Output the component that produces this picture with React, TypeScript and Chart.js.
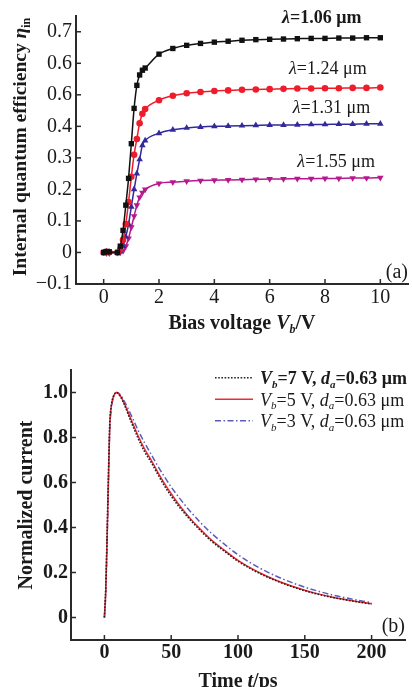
import React, { useEffect, useRef } from 'react';
import { Chart, registerables } from 'chart.js';

Chart.register(...registerables);

const FAMILY = '"Liberation Serif", "Times New Roman", Times, serif';
const AXIS = '#2a2a2a';
const TEXT = '#1a1a1a';

// ---------- Panel (a) data ----------
const biasV = [0, 0.1, 0.2, 0.5, 0.6, 0.7, 0.8, 0.9, 1.0, 1.1, 1.2, 1.3, 1.4, 1.5, 2, 2.5, 3, 3.5, 4, 4.5, 5, 5.5, 6, 6.5, 7, 7.5, 8, 8.5, 9, 9.5, 10];
const eta106 = [0, 0.003, 0.002, 0, 0.02, 0.07, 0.15, 0.235, 0.345, 0.457, 0.53, 0.563, 0.578, 0.585, 0.629, 0.647, 0.657, 0.663, 0.667, 0.67, 0.673, 0.675, 0.676, 0.677, 0.678, 0.679, 0.679, 0.68, 0.68, 0.681, 0.681];
const eta124 = [0, 0.002, 0.001, 0, 0.01, 0.04, 0.09, 0.16, 0.24, 0.31, 0.36, 0.41, 0.44, 0.455, 0.483, 0.497, 0.505, 0.509, 0.512, 0.514, 0.516, 0.517, 0.518, 0.519, 0.52, 0.52, 0.521, 0.521, 0.522, 0.522, 0.523];
const eta131 = [0, 0.002, 0.001, 0, 0.005, 0.02, 0.05, 0.09, 0.145, 0.2, 0.25, 0.295, 0.34, 0.355, 0.378, 0.389, 0.395, 0.398, 0.4, 0.401, 0.402, 0.403, 0.404, 0.404, 0.405, 0.406, 0.406, 0.407, 0.407, 0.408, 0.408];
const eta155 = [0, -0.002, -0.002, -0.001, 0, 0.005, 0.02, 0.045, 0.08, 0.115, 0.15, 0.175, 0.19, 0.2, 0.219, 0.223, 0.226, 0.228, 0.229, 0.23, 0.231, 0.232, 0.233, 0.233, 0.234, 0.234, 0.235, 0.235, 0.236, 0.236, 0.237];
const xTicksA = [0, 2, 4, 6, 8, 10];
const yTicksA = [-0.1, 0, 0.1, 0.2, 0.3, 0.4, 0.5, 0.6, 0.7];
const yTickLabelsA = ['\u22120.1', '0', '0.1', '0.2', '0.3', '0.4', '0.6', '0.6', '0.7'];
const xTickLabelsA = ['0', '2', '4', '6', '8', '10'];
const wavelengthsA = ['1.06', '1.24', '1.31', '1.55'];
// label anchor positions in data units (x, baseline y)
const labelXA = [6.45, 6.7, 6.83, 7.0];
const labelYA = [0.727, 0.566, 0.441, 0.272];

// ---------- Panel (b) data ----------
const timePs = [0, 1, 2, 3, 4, 5, 6, 7, 8, 9, 10, 12, 15, 20, 25, 30, 35, 40, 45, 50, 55, 60, 65, 70, 75, 80, 90, 100, 110, 120, 130, 140, 150, 160, 170, 180, 190, 200];
const cur7V = [0, 0.13, 0.37, 0.63, 0.86, 0.935, 0.968, 0.987, 0.997, 1.0, 0.997, 0.982, 0.945, 0.87, 0.8, 0.738, 0.69, 0.636, 0.585, 0.54, 0.499, 0.463, 0.429, 0.398, 0.368, 0.34, 0.294, 0.25, 0.215, 0.185, 0.16, 0.138, 0.119, 0.103, 0.09, 0.079, 0.069, 0.06];
const cur5V = [0, 0.12, 0.35, 0.61, 0.85, 0.93, 0.965, 0.985, 0.996, 1.0, 0.998, 0.985, 0.95, 0.88, 0.81, 0.75, 0.7, 0.645, 0.595, 0.55, 0.508, 0.47, 0.435, 0.403, 0.373, 0.345, 0.298, 0.254, 0.218, 0.188, 0.162, 0.14, 0.121, 0.105, 0.091, 0.08, 0.07, 0.061];
const cur3V = [0, 0.1, 0.32, 0.58, 0.83, 0.92, 0.96, 0.982, 0.995, 1.0, 0.999, 0.99, 0.96, 0.9, 0.835, 0.777, 0.725, 0.673, 0.625, 0.58, 0.54, 0.502, 0.467, 0.434, 0.403, 0.375, 0.325, 0.279, 0.241, 0.208, 0.18, 0.156, 0.135, 0.117, 0.101, 0.088, 0.076, 0.066];
const biasLegendB = ['7', '5', '3'];
const thicknessB = '0.63';
const xTicksB = [0, 50, 100, 150, 200];
const yTicksB = [0, 0.2, 0.4, 0.6, 0.8, 1.0];
const yTickLabelsB = ['0', '0.2', '0.4', '0.6', '0.8', '1.0'];

// ---------- rich text helpers ----------
type Seg = { t: string; i?: boolean; b?: boolean; sub?: boolean };
function segFont(s: Seg, size: number, bold: boolean) {
  const sz = s.sub ? Math.round(size * 0.62) : size;
  return `${s.i ? 'italic ' : ''}${bold || s.b ? 'bold ' : ''}${sz}px ${FAMILY}`;
}
function richWidth(ctx: CanvasRenderingContext2D, segs: Seg[], size: number, bold: boolean) {
  let w = 0;
  for (const s of segs) {
    ctx.font = segFont(s, size, bold);
    w += ctx.measureText(s.t).width;
  }
  return w;
}
function drawRich(ctx: CanvasRenderingContext2D, segs: Seg[], x: number, y: number, size: number, bold: boolean, color = TEXT) {
  ctx.save();
  ctx.fillStyle = color;
  ctx.textAlign = 'left';
  ctx.textBaseline = 'alphabetic';
  let cx = x;
  for (const s of segs) {
    ctx.font = segFont(s, size, bold);
    ctx.fillText(s.t, cx, y + (s.sub ? size * 0.22 : 0));
    cx += ctx.measureText(s.t).width;
  }
  ctx.restore();
}
function drawRotated(ctx: CanvasRenderingContext2D, segs: Seg[], baseX: number, centerY: number, size: number, bold: boolean) {
  const w = richWidth(ctx, segs, size, bold);
  ctx.save();
  ctx.translate(baseX, centerY);
  ctx.rotate(-Math.PI / 2);
  drawRich(ctx, segs, -w / 2, 0, size, bold);
  ctx.restore();
}
function innerTicks(chart: any, xt: number[], yt: number[]) {
  const ctx = chart.ctx as CanvasRenderingContext2D;
  const ca = chart.chartArea;
  const xs = chart.scales.x;
  const ys = chart.scales.y;
  ctx.save();
  ctx.strokeStyle = AXIS;
  ctx.lineWidth = 1.5;
  for (const v of xt) {
    const px = xs.getPixelForValue(v);
    ctx.beginPath();
    ctx.moveTo(px, ca.bottom);
    ctx.lineTo(px, ca.bottom - 5);
    ctx.stroke();
  }
  for (const v of yt) {
    const py = ys.getPixelForValue(v);
    ctx.beginPath();
    ctx.moveTo(ca.left, py);
    ctx.lineTo(ca.left + 5, py);
    ctx.stroke();
  }
  ctx.restore();
}

const seriesA = [
  { name: '1.06', values: eta106, color: '#111111', style: 'rect', rot: 0, radius: 3.8 },
  { name: '1.24', values: eta124, color: '#ee1d2b', style: 'circle', rot: 0, radius: 3.3 },
  { name: '1.31', values: eta131, color: '#33299a', style: 'triangle', rot: 0, radius: 3.8 },
  { name: '1.55', values: eta155, color: '#b5198c', style: 'triangle', rot: 180, radius: 3.8 },
];

const seriesB = [
  { v: biasLegendB[0], values: cur7V, color: '#222222', dash: [1.6, 1.6], width: 1.6, bold: true },
  { v: biasLegendB[1], values: cur5V, color: '#ef2b36', dash: [] as number[], width: 1.5, bold: false },
  { v: biasLegendB[2], values: cur3V, color: '#5b5cb8', dash: [6, 2.5, 1.5, 2.5], width: 1.5, bold: false },
];

const decorA = {
  id: 'decorA',
  afterDraw(chart: any) {
    const ctx = chart.ctx as CanvasRenderingContext2D;
    const ca = chart.chartArea;
    const xs = chart.scales.x;
    const ys = chart.scales.y;
    innerTicks(chart, xTicksA, yTicksA);
    // curve labels
    wavelengthsA.forEach((w, i) => {
      const segs: Seg[] = [{ t: '\u03bb', i: true }, { t: `=${w} \u03bcm` }];
      drawRich(ctx, segs, xs.getPixelForValue(labelXA[i]), ys.getPixelForValue(labelYA[i]), 18, i === 0);
    });
    // panel tag
    ctx.save();
    ctx.fillStyle = TEXT;
    ctx.font = `20px ${FAMILY}`;
    ctx.textAlign = 'right';
    ctx.textBaseline = 'alphabetic';
    ctx.fillText('(a)', ca.right, ca.bottom - 6);
    ctx.restore();
    // axis titles
    const xt: Seg[] = [{ t: 'Bias voltage ' }, { t: 'V', i: true }, { t: 'b', i: true, sub: true }, { t: '/V' }];
    const w = richWidth(ctx, xt, 20, true);
    drawRich(ctx, xt, (ca.left + ca.right) / 2 - w / 2, 329, 20, true);
    const yt: Seg[] = [{ t: 'Internal quantum efficiency ' }, { t: '\u03b7', i: true }, { t: 'in', sub: true }];
    drawRotated(ctx, yt, 26, 147, 19.5, true);
  },
};

const decorB = {
  id: 'decorB',
  afterDraw(chart: any) {
    const ctx = chart.ctx as CanvasRenderingContext2D;
    const ca = chart.chartArea;
    innerTicks(chart, xTicksB, yTicksB);
    // legend
    seriesB.forEach((s, i) => {
      const ly = 42.7 + i * 21.5;
      ctx.save();
      ctx.strokeStyle = s.color;
      ctx.lineWidth = s.width;
      ctx.setLineDash(s.dash);
      ctx.beginPath();
      ctx.moveTo(215, ly);
      ctx.lineTo(253, ly);
      ctx.stroke();
      ctx.restore();
      const segs: Seg[] = [
        { t: 'V', i: true }, { t: 'b', i: true, sub: true }, { t: `=${s.v} V, ` },
        { t: 'd', i: true }, { t: 'a', i: true, sub: true }, { t: `=${thicknessB} \u03bcm` },
      ];
      drawRich(ctx, segs, 260, ly + 6.3, 18, s.bold);
    });
    ctx.save();
    ctx.fillStyle = TEXT;
    ctx.font = `20px ${FAMILY}`;
    ctx.textAlign = 'right';
    ctx.textBaseline = 'alphabetic';
    ctx.fillText('(b)', ca.right, ca.bottom - 8);
    ctx.restore();
    const xt: Seg[] = [{ t: 'Time ' }, { t: 't', i: true }, { t: '/ps' }];
    const w = richWidth(ctx, xt, 20, true);
    drawRich(ctx, xt, (ca.left + ca.right) / 2 - w / 2, 351.5, 20, true);
    drawRotated(ctx, [{ t: 'Normalized current' }], 31.5, (ca.top + ca.bottom) / 2, 20, true);
  },
};

function axisBase() {
  return {
    type: 'linear' as const,
    grid: { display: true, drawOnChartArea: false, drawTicks: false },
    border: { display: true, color: AXIS, width: 2 },
  };
}

function configA(): any {
  return {
    type: 'line',
    data: {
      datasets: seriesA.map((s) => ({
        label: s.name,
        data: biasV.map((x, i) => ({ x, y: s.values[i] })),
        borderColor: s.color,
        backgroundColor: s.color,
        borderWidth: 1.5,
        pointStyle: s.style,
        pointRotation: s.rot,
        pointRadius: s.radius,
        pointBorderWidth: 0,
        cubicInterpolationMode: 'monotone',
        fill: false,
      })),
    },
    options: {
      responsive: false,
      animation: false,
      devicePixelRatio: 1,
      events: [],
      layout: { padding: { left: 0, top: 16, right: 2, bottom: 0 } },
      plugins: { legend: { display: false }, tooltip: { enabled: false } },
      scales: {
        x: {
          ...axisBase(),
          min: -1,
          max: 11,
          afterBuildTicks: (s: any) => { s.ticks = xTicksA.map((v) => ({ value: v })); },
          afterFit: (s: any) => { s.height = 61; },
          ticks: {
            autoSkip: false, maxRotation: 0, padding: 2, color: TEXT,
            font: { family: FAMILY, size: 20 },
            callback: (_v: any, i: number) => xTickLabelsA[i],
          },
        },
        y: {
          ...axisBase(),
          min: -0.1,
          max: 0.75,
          afterBuildTicks: (s: any) => { s.ticks = yTicksA.map((v) => ({ value: v })); },
          afterFit: (s: any) => { s.width = 76; },
          ticks: {
            autoSkip: false, padding: 4, color: TEXT,
            font: { family: FAMILY, size: 20 },
            callback: (_v: any, i: number) => yTickLabelsA[i],
          },
        },
      },
    },
    plugins: [decorA],
  };
}

function configB(): any {
  return {
    type: 'line',
    data: {
      datasets: seriesB.map((s) => ({
        label: s.v,
        data: timePs.map((x, i) => ({ x, y: s.values[i] })),
        borderColor: s.color,
        borderWidth: s.width,
        borderDash: s.dash,
        pointRadius: 0,
        cubicInterpolationMode: 'monotone',
        fill: false,
      })),
    },
    options: {
      responsive: false,
      animation: false,
      devicePixelRatio: 1,
      events: [],
      layout: { padding: { left: 0, top: 35, right: 7, bottom: 0 } },
      plugins: { legend: { display: false }, tooltip: { enabled: false } },
      scales: {
        x: {
          ...axisBase(),
          min: -25,
          max: 225,
          afterBuildTicks: (s: any) => { s.ticks = xTicksB.map((v) => ({ value: v })); },
          afterFit: (s: any) => { s.height = 47; },
          ticks: {
            autoSkip: false, maxRotation: 0, padding: 1, color: TEXT,
            font: { family: FAMILY, size: 20, weight: 'bold' },
            callback: (v: any) => String(v),
          },
        },
        y: {
          ...axisBase(),
          min: -0.1,
          max: 1.1,
          afterBuildTicks: (s: any) => { s.ticks = yTicksB.map((v) => ({ value: v })); },
          afterFit: (s: any) => { s.width = 71; },
          ticks: {
            autoSkip: false, padding: 3, color: TEXT,
            font: { family: FAMILY, size: 20, weight: 'bold' },
            callback: (_v: any, i: number) => yTickLabelsB[i],
          },
        },
      },
    },
    plugins: [decorB],
  };
}

export default function App() {
  const refA = useRef<HTMLCanvasElement>(null);
  const refB = useRef<HTMLCanvasElement>(null);
  useEffect(() => {
    const a = new Chart(refA.current as HTMLCanvasElement, configA());
    const b = new Chart(refB.current as HTMLCanvasElement, configB());
    return () => {
      a.destroy();
      b.destroy();
    };
  }, []);
  return (
    <div style={{ position: 'fixed', left: 0, top: 0, width: 412, height: 687, background: '#fff', overflow: 'hidden' }}>
      <canvas ref={refA} width={412} height={345} style={{ position: 'absolute', left: 0, top: 0, width: 412, height: 345 }} />
      <canvas ref={refB} width={412} height={352} style={{ position: 'absolute', left: 0, top: 335, width: 412, height: 352 }} />
    </div>
  );
}
